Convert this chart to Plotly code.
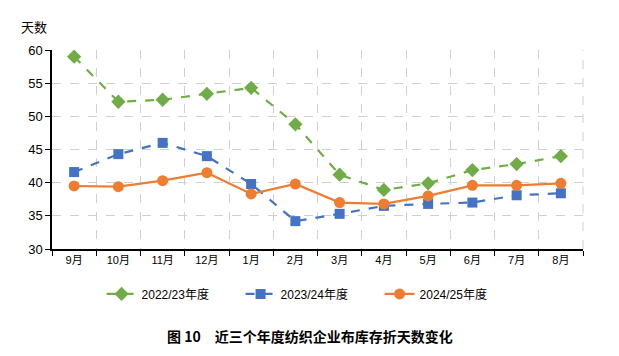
import plotly.graph_objects as go

months = ["9月", "10月", "11月", "12月", "1月", "2月", "3月", "4月", "5月", "6月", "7月", "8月"]
s2223 = [59.0, 52.2, 52.5, 53.4, 54.3, 48.8, 41.2, 38.9, 39.9, 41.9, 42.8, 44.0]
s2324 = [41.6, 44.3, 46.0, 44.0, 39.8, 34.2, 35.3, 36.5, 36.8, 37.0, 38.1, 38.4]
s2425 = [39.5, 39.4, 40.3, 41.5, 38.3, 39.8, 37.0, 36.8, 38.0, 39.6, 39.6, 39.9]
names = ["2022/23年度", "2023/24年度", "2024/25年度"]
yticks = [30, 35, 40, 45, 50, 55, 60]

font_fam = "Liberation Sans, Arial, Noto Sans CJK SC, sans-serif"

fig = go.Figure()
fig.add_trace(go.Scatter(x=months, y=s2223, name=names[0], mode="lines+markers",
                         line=dict(color="#70AD47", width=2.2, dash="dash"),
                         marker=dict(symbol="diamond", size=11, color="#70AD47")))
fig.add_trace(go.Scatter(x=months, y=s2324, name=names[1], mode="lines+markers",
                         line=dict(color="#4472C4", width=2.2, dash="dash"),
                         marker=dict(symbol="square", size=10, color="#4472C4")))
fig.add_trace(go.Scatter(x=months, y=s2425, name=names[2], mode="lines+markers",
                         line=dict(color="#ED7D31", width=2.2),
                         marker=dict(symbol="circle", size=11, color="#ED7D31")))

fig.update_layout(
    width=603, height=340,
    margin=dict(l=44, r=28, t=42, b=99, autoexpand=False),
    paper_bgcolor="white", plot_bgcolor="white",
    font=dict(family=font_fam, color="#000000"),
    showlegend=True,
    legend=dict(orientation="h", x=0.486, xanchor="center", y=-0.226, yanchor="middle",
                font=dict(size=12, family=font_fam), entrywidth=94,
                entrywidthmode="pixels", traceorder="normal"),
    xaxis=dict(type="category", tickson="boundaries", showgrid=True,
               gridcolor="#D0D0D0", griddash="dash", gridwidth=1,
               showline=True, linecolor="#000000", linewidth=1.5,
               ticks="outside", ticklen=5, tickcolor="#000000",
               tickfont=dict(size=11), range=[-0.5, 11.5], fixedrange=True),
    yaxis=dict(range=[30, 60], tickvals=yticks, showgrid=True,
               gridcolor="#D0D0D0", griddash="dash", gridwidth=1,
               showline=True, linecolor="#000000", linewidth=1.5,
               ticks="outside", ticklen=5, tickcolor="#000000",
               tickfont=dict(size=13), zeroline=False),
    annotations=[
        dict(text="天数", xref="paper", yref="paper", x=-0.034, y=1.12, xanchor="center",
             yanchor="middle", showarrow=False,
             font=dict(size=13, family="Noto Sans CJK SC")),
        dict(text="<b>图 10　近三个年度纺织企业布库存折天数变化</b>", xref="paper", yref="paper",
             x=0.486, y=-0.437, xanchor="center", yanchor="middle", showarrow=False,
             font=dict(size=14, family="Noto Sans CJK SC")),
    ],
)
fig.add_shape(type="line", xref="paper", yref="paper", x0=1, x1=1, y0=0, y1=1,
              line=dict(color="#D0D0D0", width=1, dash="dash"), layer="below")

fig.write_html("out.html")
